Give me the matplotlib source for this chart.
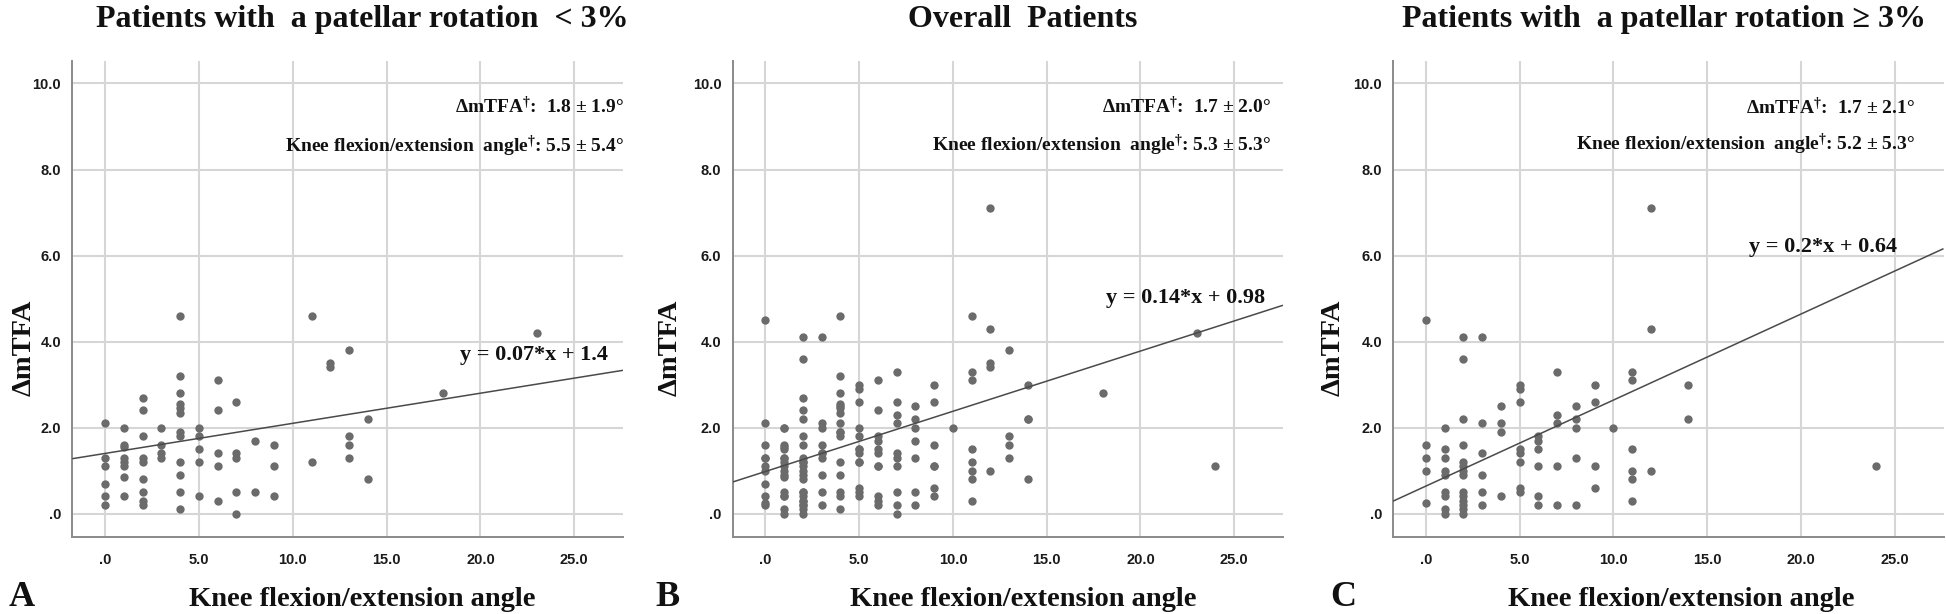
import numpy as np
import matplotlib
matplotlib.use("Agg")
import matplotlib.pyplot as plt

# ---------------- data ----------------
# Panel A: patients with a patellar rotation < 3%
a_x = [0, 0, 0, 0, 0, 0,
       1, 1, 1, 1, 1, 1, 1, 1,
       2, 2, 2, 2, 2, 2, 2, 2, 2,
       3, 3, 3, 3,
       4, 4, 4, 4, 4, 4, 4, 4, 4, 4, 4, 4,
       5, 5, 5, 5, 5,
       6, 6, 6, 6, 6,
       7, 7, 7, 7, 7,
       8, 8,
       9, 9, 9,
       11, 11,
       12, 12,
       13, 13, 13, 13,
       14, 14,
       18,
       23]
a_y = [2.1, 1.3, 1.1, 0.7, 0.4, 0.2,
       2.0, 1.6, 1.55, 1.3, 1.2, 1.1, 0.85, 0.4,
       2.7, 2.4, 1.8, 1.3, 1.2, 0.8, 0.5, 0.3, 0.2,
       2.0, 1.6, 1.4, 1.3,
       4.6, 3.2, 2.8, 2.55, 2.45, 2.35, 1.9, 1.8, 1.2, 0.9, 0.5, 0.1,
       2.0, 1.8, 1.5, 1.2, 0.4,
       3.1, 2.4, 1.4, 1.1, 0.3,
       2.6, 1.4, 1.3, 0.5, 0.0,
       1.7, 0.5,
       1.6, 1.1, 0.4,
       4.6, 1.2,
       3.5, 3.4,
       3.8, 1.8, 1.6, 1.3,
       2.2, 0.8,
       2.8,
       4.2]

# Panel C: patients with a patellar rotation >= 3%
c_x = [0, 0, 0, 0, 0,
       1, 1, 1, 1, 1, 1, 1, 1, 1,
       2, 2, 2, 2, 2, 2, 2, 2, 2, 2, 2, 2, 2, 2,
       3, 3, 3, 3, 3, 3,
       4, 4, 4, 4,
       5, 5, 5, 5, 5, 5, 5, 5,
       6, 6, 6, 6, 6, 6,
       7, 7, 7, 7, 7,
       8, 8, 8, 8, 8,
       9, 9, 9, 9,
       10,
       11, 11, 11, 11, 11, 11,
       12, 12, 12,
       14, 14,
       24]
c_y = [4.5, 1.6, 1.3, 1.0, 0.25,
       2.0, 1.5, 1.3, 1.0, 0.9, 0.5, 0.4, 0.1, 0.0,
       4.1, 3.6, 2.2, 1.6, 1.2, 1.1, 1.0, 0.9, 0.5, 0.4, 0.3, 0.2, 0.1, 0.0,
       4.1, 2.1, 1.4, 0.9, 0.5, 0.2,
       2.5, 2.1, 1.9, 0.4,
       3.0, 2.9, 2.6, 1.5, 1.4, 1.2, 0.6, 0.5,
       1.8, 1.7, 1.5, 1.1, 0.4, 0.2,
       3.3, 2.3, 2.1, 1.1, 0.2,
       2.5, 2.2, 2.0, 1.3, 0.2,
       3.0, 2.6, 1.1, 0.6,
       2.0,
       3.3, 3.1, 1.5, 1.0, 0.8, 0.3,
       7.1, 4.3, 1.0,
       3.0, 2.2,
       1.1]

# Panel B: overall patients (both groups together)
b_x = a_x + c_x
b_y = a_y + c_y

titles = ["Patients with  a patellar rotation  < 3%",
          "Overall  Patients",
          "Patients with  a patellar rotation \u2265 3%"]
fit_slopes = [0.07, 0.14, 0.2]
fit_intercepts = [1.4, 0.98, 0.64]
fit_labels = ["y = 0.07*x + 1.4", "y = 0.14*x + 0.98", "y = 0.2*x + 0.64"]
mtfa_stats = ["1.8 \u00b1 1.9\u00b0", "1.7 \u00b1 2.0\u00b0", "1.7 \u00b1 2.1\u00b0"]
angle_stats = ["5.5 \u00b1 5.4\u00b0", "5.3 \u00b1 5.3\u00b0", "5.2 \u00b1 5.3\u00b0"]
panel_letters = ["A", "B", "C"]
x_ticks = [0, 5, 10, 15, 20, 25]
x_ticklabels = [".0", "5.0", "10.0", "15.0", "20.0", "25.0"]
y_ticks = [0, 2, 4, 6, 8, 10]
y_ticklabels = [".0", "2.0", "4.0", "6.0", "8.0", "10.0"]

# ---------------- style ----------------
W, H = 1946, 614
DPI = 100
plt.rcParams['mathtext.fontset'] = 'custom'
plt.rcParams['mathtext.rm'] = 'Liberation Serif:bold'
plt.rcParams['mathtext.bf'] = 'Liberation Serif:bold'
plt.rcParams['mathtext.it'] = 'Liberation Serif:bold'

SERIF = ['Liberation Serif', 'DejaVu Serif']
SANS = ['Liberation Sans', 'DejaVu Sans']
PT_COLOR = '#6b6b6b'
LINE_COLOR = '#4a4a4a'
GRID_COLOR = '#d6d6d6'
SPINE_COLOR = '#8a8a8a'

fig = plt.figure(figsize=(W / DPI, H / DPI), dpi=DPI)
fig.patch.set_facecolor('white')


def fx(px):
    return px / W


def fy(py):
    return 1 - py / H


# axes pixel boxes (left, right), top/bottom shared
ax_lr = [(72.3, 623.0), (732.6, 1283.0), (1393.0, 1943.5)]
ax_top, ax_bot = 60.7, 537.3

# text anchor positions (pixels)
title_cx = [362, 1023, 1664]
title_base = 27
xlabel_cx = [362, 1023, 1681]
xlabel_base = 606
ylabel_cx = [24, 670, 1333]
ylabel_cy = 348
letter_cx = [22, 667, 1343]
stat_right = [624, 1271, 1915]
stat_y1 = [106.5, 106.5, 107.5]
stat_y2 = [146.5, 145.5, 144.5]
eq_right = [608, 1265, 1897]
eq_cy = [355, 297.5, 247]

xs_all = [a_x, b_x, c_x]
ys_all = [a_y, b_y, c_y]

for i in range(3):
    l, r = ax_lr[i]
    ax = fig.add_axes([fx(l), fy(ax_bot), (r - l) / W, (ax_bot - ax_top) / H])
    ax.set_xlim(-1.75, 27.6)
    ax.set_ylim(-0.55, 10.53)
    ax.set_axisbelow(True)
    ax.grid(True, color=GRID_COLOR, linewidth=1.5)
    for s in ['top', 'right']:
        ax.spines[s].set_visible(False)
    for s in ['left', 'bottom']:
        ax.spines[s].set_color(SPINE_COLOR)
        ax.spines[s].set_linewidth(1.4)
    ax.set_xticks(x_ticks)
    ax.set_xticklabels(x_ticklabels)
    ax.set_yticks(y_ticks)
    ax.set_yticklabels(y_ticklabels)
    ax.tick_params(axis='both', length=0, labelsize=10.5, colors='#1a1a1a')
    ax.tick_params(axis='x', pad=11)
    ax.tick_params(axis='y', pad=8)
    for lab in ax.get_xticklabels() + ax.get_yticklabels():
        lab.set_fontfamily(SANS)
        lab.set_fontweight('bold')

    ax.scatter(xs_all[i], ys_all[i], s=36, color=PT_COLOR, linewidths=0, zorder=3)
    xl = np.array(ax.get_xlim())
    ax.plot(xl, fit_slopes[i] * xl + fit_intercepts[i], color=LINE_COLOR,
            linewidth=1.1, zorder=4, solid_capstyle='butt')
    ax.set_xlim(-1.75, 27.6)

    fig.text(fx(title_cx[i]), fy(title_base), titles[i], ha='center', va='baseline',
             fontsize=23, fontweight='bold', family=SERIF, color='#111111')
    fig.text(fx(xlabel_cx[i]), fy(xlabel_base), "Knee flexion/extension angle",
             ha='center', va='baseline', fontsize=20.5, fontweight='bold',
             family=SERIF, color='#111111')
    fig.text(fx(letter_cx[i]), fy(xlabel_base), panel_letters[i], ha='center',
             va='baseline', fontsize=26, fontweight='bold', family=SERIF,
             color='#111111')
    fig.text(fx(ylabel_cx[i]), fy(ylabel_cy), "\u0394mTFA", ha='center', va='center',
             rotation=90, fontsize=20.5, fontweight='bold', family=SERIF,
             color='#111111')
    fig.text(fx(stat_right[i]), fy(stat_y1[i]),
             "\u0394mTFA$^{\u2020}$:  " + mtfa_stats[i], ha='right', va='center',
             fontsize=14, fontweight='bold', family=SERIF, color='#111111')
    fig.text(fx(stat_right[i]), fy(stat_y2[i]),
             "Knee flexion/extension  angle$^{\u2020}$: " + angle_stats[i],
             ha='right', va='center', fontsize=14, fontweight='bold',
             family=SERIF, color='#111111')
    fig.text(fx(eq_right[i]), fy(eq_cy[i]), fit_labels[i], ha='right', va='center',
             fontsize=16, fontweight='bold', family=SERIF, color='#111111')

fig.savefig("out.png", dpi=DPI, facecolor='white')
